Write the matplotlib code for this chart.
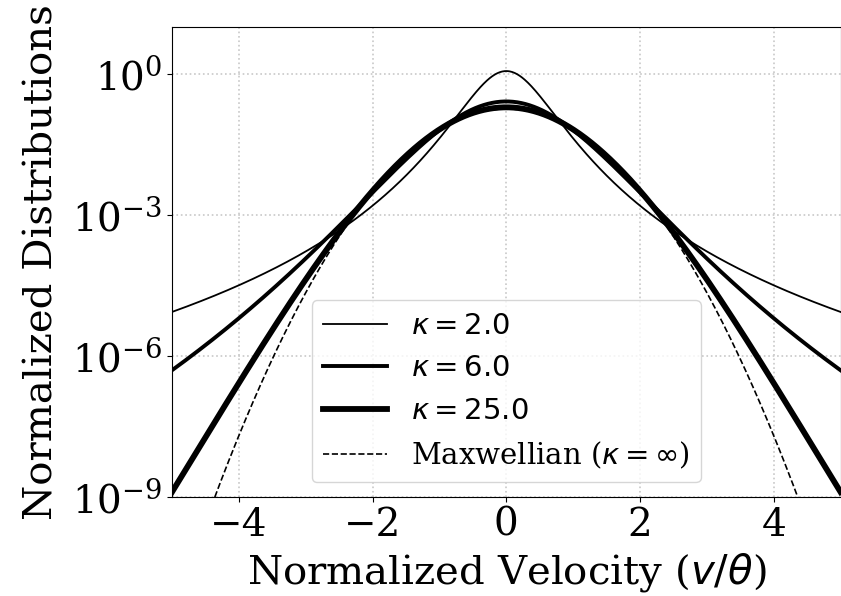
"""Kappa distributions vs Maxwellian on a log axis"""
import math
import numpy as np
import matplotlib
matplotlib.use("Agg")
import matplotlib.pyplot as plt

# kappa values shown in the legend, and the line width for each curve
kappas = [2.0, 6.0, 25.0]
widths = [1.3, 2.8, 4.2]
labels = [r'$\kappa = 2.0$', r'$\kappa = 6.0$', r'$\kappa = 25.0$']
maxwell_label = r'Maxwellian ($\kappa = \infty$)'

v = np.linspace(-5, 5, 801)  # normalized velocity v/theta


def kappa_dist(v, k):
    """3D kappa distribution, theta^2 = (2k-3)/k * kT/m normalisation"""
    norm = math.exp(math.lgamma(k + 1) - math.lgamma(k - 0.5)) / (math.pi * (k - 1.5)) ** 1.5
    return norm * (1 + v ** 2 / (k - 1.5)) ** (-(k + 1))


def maxwellian(v):
    return np.exp(-v ** 2) / math.pi ** 1.5


plt.rcParams['font.family'] = 'serif'
plt.rcParams['font.serif'] = ['DejaVu Serif']

fig = plt.figure(figsize=(8.41, 5.96), dpi=100)
ax = fig.add_axes([0.2045, 0.166, 0.795, 0.789])

for k, lw, lab in zip(kappas, widths, labels):
    ax.plot(v, kappa_dist(v, k), color='black', linewidth=lw, label=lab)
ax.plot(v, maxwellian(v), color='black', linestyle='--', linewidth=1.2, label=maxwell_label)

ax.set_yscale('log')
ax.set_xlim(-5, 5)
ax.set_ylim(1e-9, 1e1)
ax.set_yticks([1e-9, 1e-6, 1e-3, 1e0])
ax.yaxis.set_minor_locator(matplotlib.ticker.NullLocator())
ax.set_xticks([-4, -2, 0, 2, 4])
ax.tick_params(labelsize=28)
ax.grid(True, linestyle=':', color='#c8c8c8', linewidth=1.2)

ax.set_xlabel(r'Normalized Velocity ($v/\theta$)', fontsize=29, labelpad=5)
ax.set_ylabel('Normalized Distributions', fontsize=29, labelpad=8)

ax.legend(loc='lower center', fontsize=21, handlelength=2.2)

fig.savefig('out.png', dpi=100)
